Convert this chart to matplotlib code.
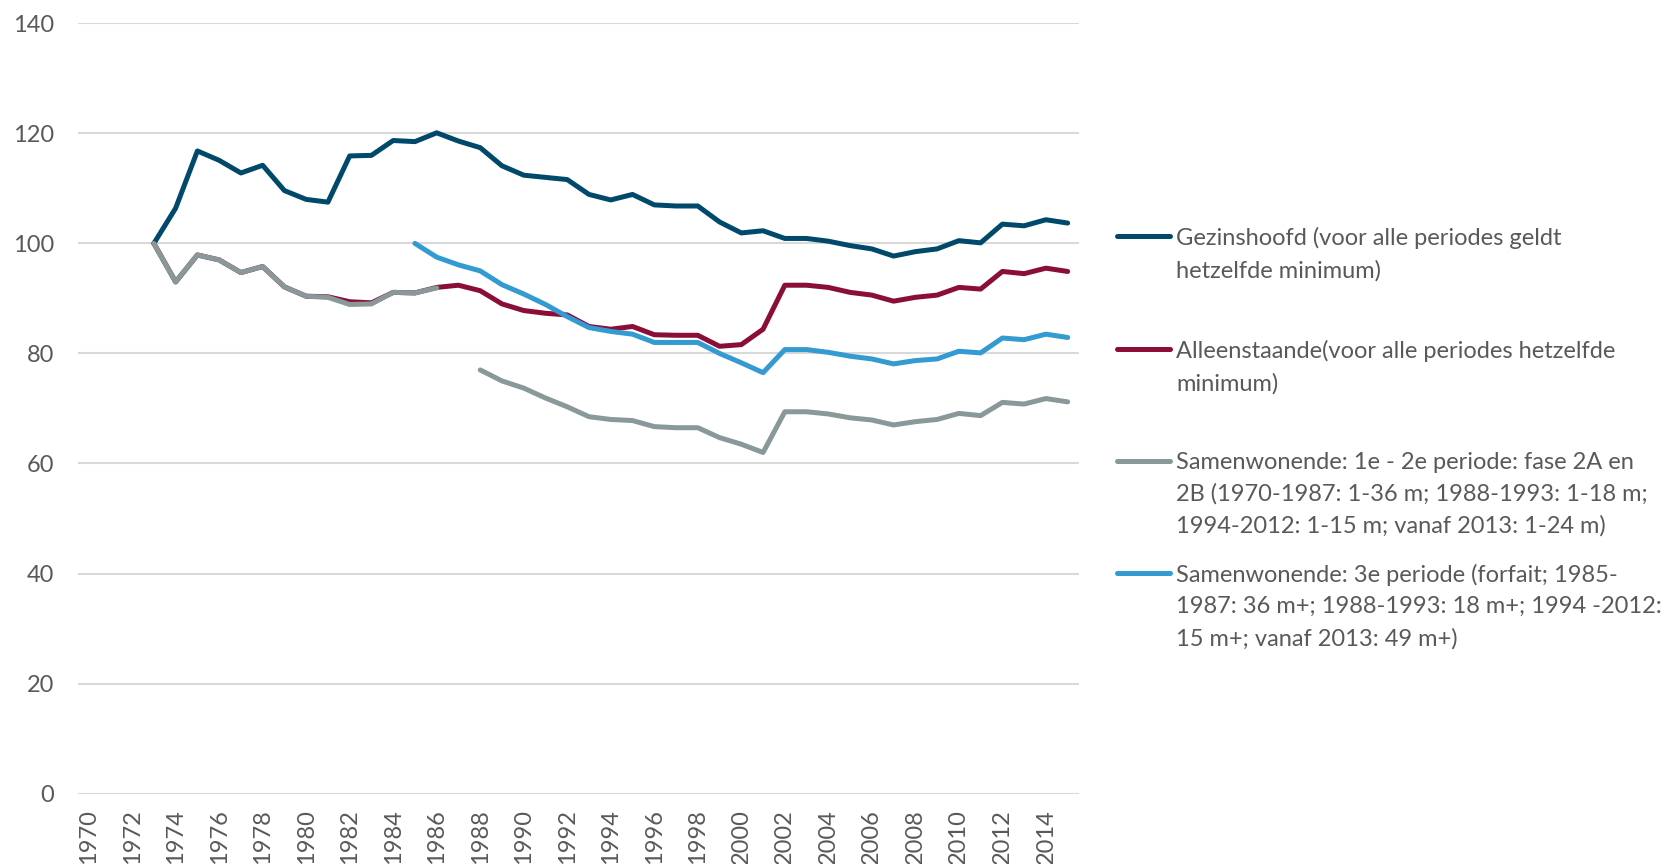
import numpy as np
import matplotlib.pyplot as plt
from matplotlib.lines import Line2D

plt.rcParams['font.family'] = ['Lato', 'DejaVu Sans']

# data
years = list(range(1973, 2016))
gezinshoofd = [100, 106.4, 116.8, 115.1, 112.8, 114.2, 109.6, 108, 107.5, 115.9,
               116, 118.7, 118.5, 120.1, 118.6, 117.4, 114.1, 112.4, 112, 111.6,
               108.9, 107.9, 108.9, 107, 106.8, 106.8, 103.9, 101.9, 102.3, 100.9,
               100.9, 100.4, 99.6, 99, 97.7, 98.5, 99, 100.5, 100.1, 103.5,
               103.2, 104.3, 103.7]
alleenstaande = [100, 93, 97.9, 97, 94.7, 95.8, 92.1, 90.4, 90.3, 89.4,
                 89.2, 91.1, 91, 92, 92.4, 91.4, 89, 87.8, 87.3, 87,
                 84.9, 84.4, 84.9, 83.4, 83.3, 83.3, 81.3, 81.6, 84.4, 92.4,
                 92.4, 92, 91.1, 90.6, 89.5, 90.2, 90.6, 92, 91.7, 94.9,
                 94.5, 95.5, 94.9]
samenwonend_12 = [100, 93, 97.9, 97, 94.7, 95.8, 92.1, 90.4, 90.2, 88.9,
                  89, 91.1, 91, 91.9, np.nan, 77, 75, 73.7, 71.9, 70.3,
                  68.5, 68, 67.8, 66.7, 66.5, 66.5, 64.7, 63.5, 62, 69.4,
                  69.4, 69, 68.3, 67.9, 67, 67.6, 68, 69.1, 68.7, 71.1,
                  70.8, 71.8, 71.2]
years_3e = list(range(1985, 2016))
samenwonend_3 = [100, 97.5, 96.1, 95, 92.5, 90.8, 88.9, 86.7, 84.7, 84,
                 83.5, 82, 82, 82, 80, 78.3, 76.5, 80.7, 80.7, 80.2,
                 79.5, 79, 78.1, 78.7, 79, 80.4, 80.1, 82.8, 82.5, 83.5,
                 82.9]

labels = [
    "Gezinshoofd (voor alle periodes geldt\nhetzelfde minimum)",
    "Alleenstaande(voor alle periodes hetzelfde\nminimum)",
    "Samenwonende: 1e - 2e periode: fase 2A en\n2B (1970-1987: 1-36 m; 1988-1993: 1-18 m;\n1994-2012: 1-15 m; vanaf 2013: 1-24 m)",
    "Samenwonende: 3e periode (forfait; 1985-\n1987: 36 m+; 1988-1993: 18 m+; 1994 -2012:\n15 m+; vanaf 2013: 49 m+)",
]
colors = ["#00496B", "#8A0E37", "#899898", "#339AD2"]
tick_years = list(range(1970, 2015, 2))

fig = plt.figure(figsize=(16.68, 8.64), dpi=100)
ax = fig.add_axes([0.0466, 0.0815, 0.6, 0.8915])

lw = 3.6
ax.plot(years, gezinshoofd, color=colors[0], lw=lw, solid_joinstyle='round', solid_capstyle='round')
ax.plot(years, alleenstaande, color=colors[1], lw=lw, solid_joinstyle='round', solid_capstyle='round')
ax.plot(years, samenwonend_12, color=colors[2], lw=lw, solid_joinstyle='round', solid_capstyle='round')
ax.plot(years_3e, samenwonend_3, color=colors[3], lw=lw, solid_joinstyle='round', solid_capstyle='round')

ax.set_xlim(1969.5, 2015.5)
ax.set_ylim(0, 140)
ax.set_yticks(range(0, 141, 20))
ax.set_xticks(tick_years)
ax.set_xticklabels([str(y) for y in tick_years], rotation=90)
ax.tick_params(axis='both', length=0, labelsize=17, labelcolor='#595959')
ax.tick_params(axis='y', pad=17)
ax.tick_params(axis='x', pad=11)
ax.yaxis.grid(True, color='#D9D9D9', lw=1.5)
ax.set_axisbelow(True)
for s in ax.spines.values():
    s.set_visible(False)

# legend (Excel-style, handle next to first line)
entry_y = [236, 349, 461, 573]
for lab, col, yp in zip(labels, colors, entry_y):
    yf = 1 - yp / 864
    fig.add_artist(Line2D([1117 / 1668, 1170 / 1668], [yf, yf], color=col, lw=lw,
                          solid_capstyle='round', transform=fig.transFigure))
    fig.text(1176 / 1668, yf + 9 / 864, lab, ha='left', va='top', fontsize=17,
             color='#595959', linespacing=1.6)

fig.savefig("out.png", dpi=100)
